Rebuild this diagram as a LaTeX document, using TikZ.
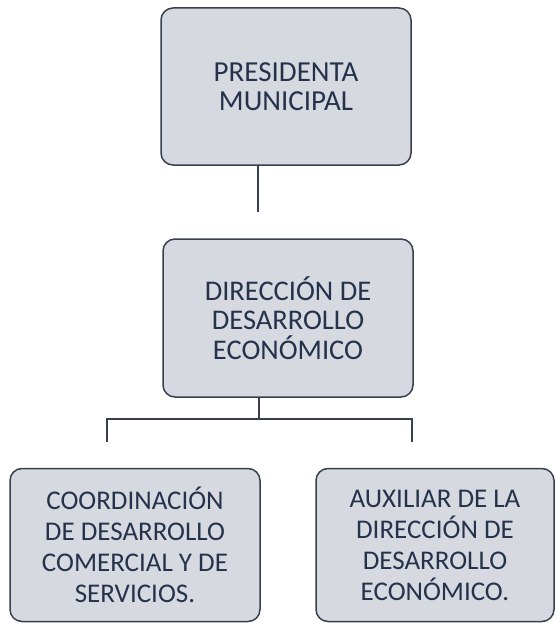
\documentclass[tikz,border=0pt]{standalone}
\usepackage{fontspec}
\setmainfont{Carlito}
\definecolor{boxfill}{RGB}{214,218,224}
\definecolor{boxdraw}{RGB}{56,64,78}
\definecolor{txt}{RGB}{38,50,76}
\definecolor{linec}{RGB}{56,64,78}
\begin{document}
\begin{tikzpicture}[x=1pt,y=-1pt,
  orgbox/.style={draw=boxdraw, fill=boxfill, line width=1.5pt, rounded corners=12pt,
    align=center, text=txt, inner sep=0pt},
  conn/.style={draw=linec, line width=1.3pt}]
\useasboundingbox (0,0) rectangle (556,623);
\node[orgbox, minimum width=250pt, minimum height=157pt,
  font=\fontsize{29}{29.5}\selectfont] (top) at (286,86.5) {PRESIDENTA\\MUNICIPAL};
\node[orgbox, minimum width=250pt, minimum height=158pt,
  font=\fontsize{28.5}{29.5}\selectfont] (mid) at (288,318) {DIRECCIÓN DE\\DESARROLLO\\ECONÓMICO};
\node[orgbox, minimum width=250pt, minimum height=153pt,
  font=\fontsize{27}{31}\selectfont] (left) at (135,545) {COORDINACIÓN\\DE DESARROLLO\\COMERCIAL Y DE\\SERVICIOS.};
\node[orgbox, minimum width=238pt, minimum height=153pt,
  font=\fontsize{27}{31}\selectfont] (right) at (435,545) {AUXILIAR DE LA\\DIRECCIÓN DE\\DESARROLLO\\ECONÓMICO.};
\coordinate (j1) at (258,212);
\coordinate (j2) at (259,419);
\coordinate (lc) at (107,419);
\coordinate (rc) at (412,419);
\coordinate (ld) at (107,442);
\coordinate (rd) at (412,442);
\draw[conn] (top.south -| j1) -- (j1);
\draw[conn] (mid.south -| j2) -- (j2);
\draw[conn] (ld) -- (lc) -- (rc) -- (rd);
\end{tikzpicture}
\end{document}
